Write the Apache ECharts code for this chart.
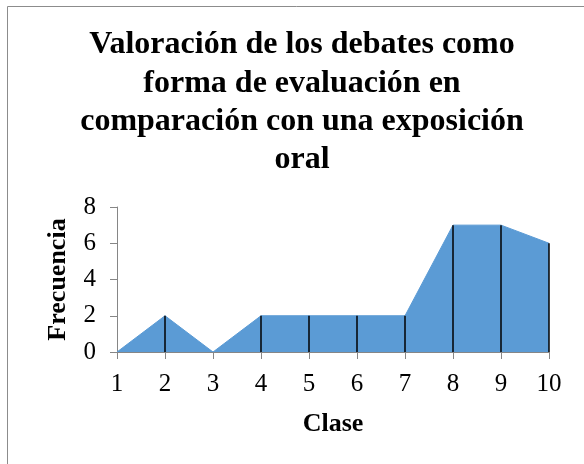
<!DOCTYPE html>
<html><head><meta charset="utf-8">
<script src="https://cdn.jsdelivr.net/npm/echarts@6/dist/echarts.min.js"></script>
<style>html,body{margin:0;padding:0;background:#fff}#c{width:584px;height:464px}</style>
</head><body><div id="c"></div>
<script>
var categories = ['1','2','3','4','5','6','7','8','9','10'];
var frecuencia = [0, 2, 0, 2, 2, 2, 2, 7, 7, 6];
var yTicks = [0, 2, 4, 6, 8];
var titleText = 'Valoración de los debates como\nforma de evaluación en\ncomparación con una exposición\noral';

var chart = echarts.init(document.getElementById('c'), null, {renderer: 'canvas'});
var serif = '"Liberation Serif", "Times New Roman", serif';
var dropLines = frecuencia.map(function (v, i) {
  return [{coord: [i, 0]}, {coord: [i, v]}];
}).filter(function (d, i) { return frecuencia[i] > 0; });

chart.setOption({
  animation: false,
  graphic: [{
    type: 'rect', shape: {x: 7.5, y: 6.5, width: 600, height: 500},
    style: {fill: 'none', stroke: '#8c8c8c', lineWidth: 1}, silent: true
  }],
  title: {
    text: titleText, top: 21, left: 297, textAlign: 'center',
    textStyle: {fontFamily: serif, fontWeight: 'bold', fontSize: 32, lineHeight: 38.3, color: '#000'}
  },
  grid: {left: 117, right: 35, top: 207, bottom: 112, containLabel: false},
  xAxis: {
    type: 'category', data: categories, boundaryGap: false,
    name: 'Clase', nameLocation: 'middle', nameGap: 59,
    nameTextStyle: {fontFamily: serif, fontWeight: 'bold', fontSize: 26, color: '#000'},
    axisLine: {lineStyle: {color: '#868686', width: 1}},
    axisTick: {show: true, alignWithLabel: true, length: 7, lineStyle: {color: '#868686'}},
    axisLabel: {fontFamily: serif, fontSize: 25, color: '#000', margin: 20, interval: 0}
  },
  yAxis: {
    type: 'value', min: 0, max: 8, interval: 2,
    name: 'Frecuencia', nameLocation: 'middle', nameGap: 46,
    nameTextStyle: {fontFamily: serif, fontWeight: 'bold', fontSize: 26, color: '#000'},
    axisLine: {show: true, lineStyle: {color: '#868686', width: 1}},
    axisTick: {show: true, length: 7, lineStyle: {color: '#868686'}},
    splitLine: {show: false},
    axisLabel: {fontFamily: serif, fontSize: 25, color: '#000', margin: 21,
      formatter: function (v) { return yTicks.indexOf(v) >= 0 ? String(v) : ''; }}
  },
  series: [{
    type: 'line', data: frecuencia, symbol: 'none',
    lineStyle: {color: '#5B9BD5', width: 1},
    areaStyle: {color: '#5B9BD5', opacity: 1},
    markLine: {
      silent: true, symbol: ['none', 'none'], label: {show: false},
      lineStyle: {color: '#000', width: 1.5, type: 'solid'},
      data: dropLines
    }
  }]
});
</script></body></html>
